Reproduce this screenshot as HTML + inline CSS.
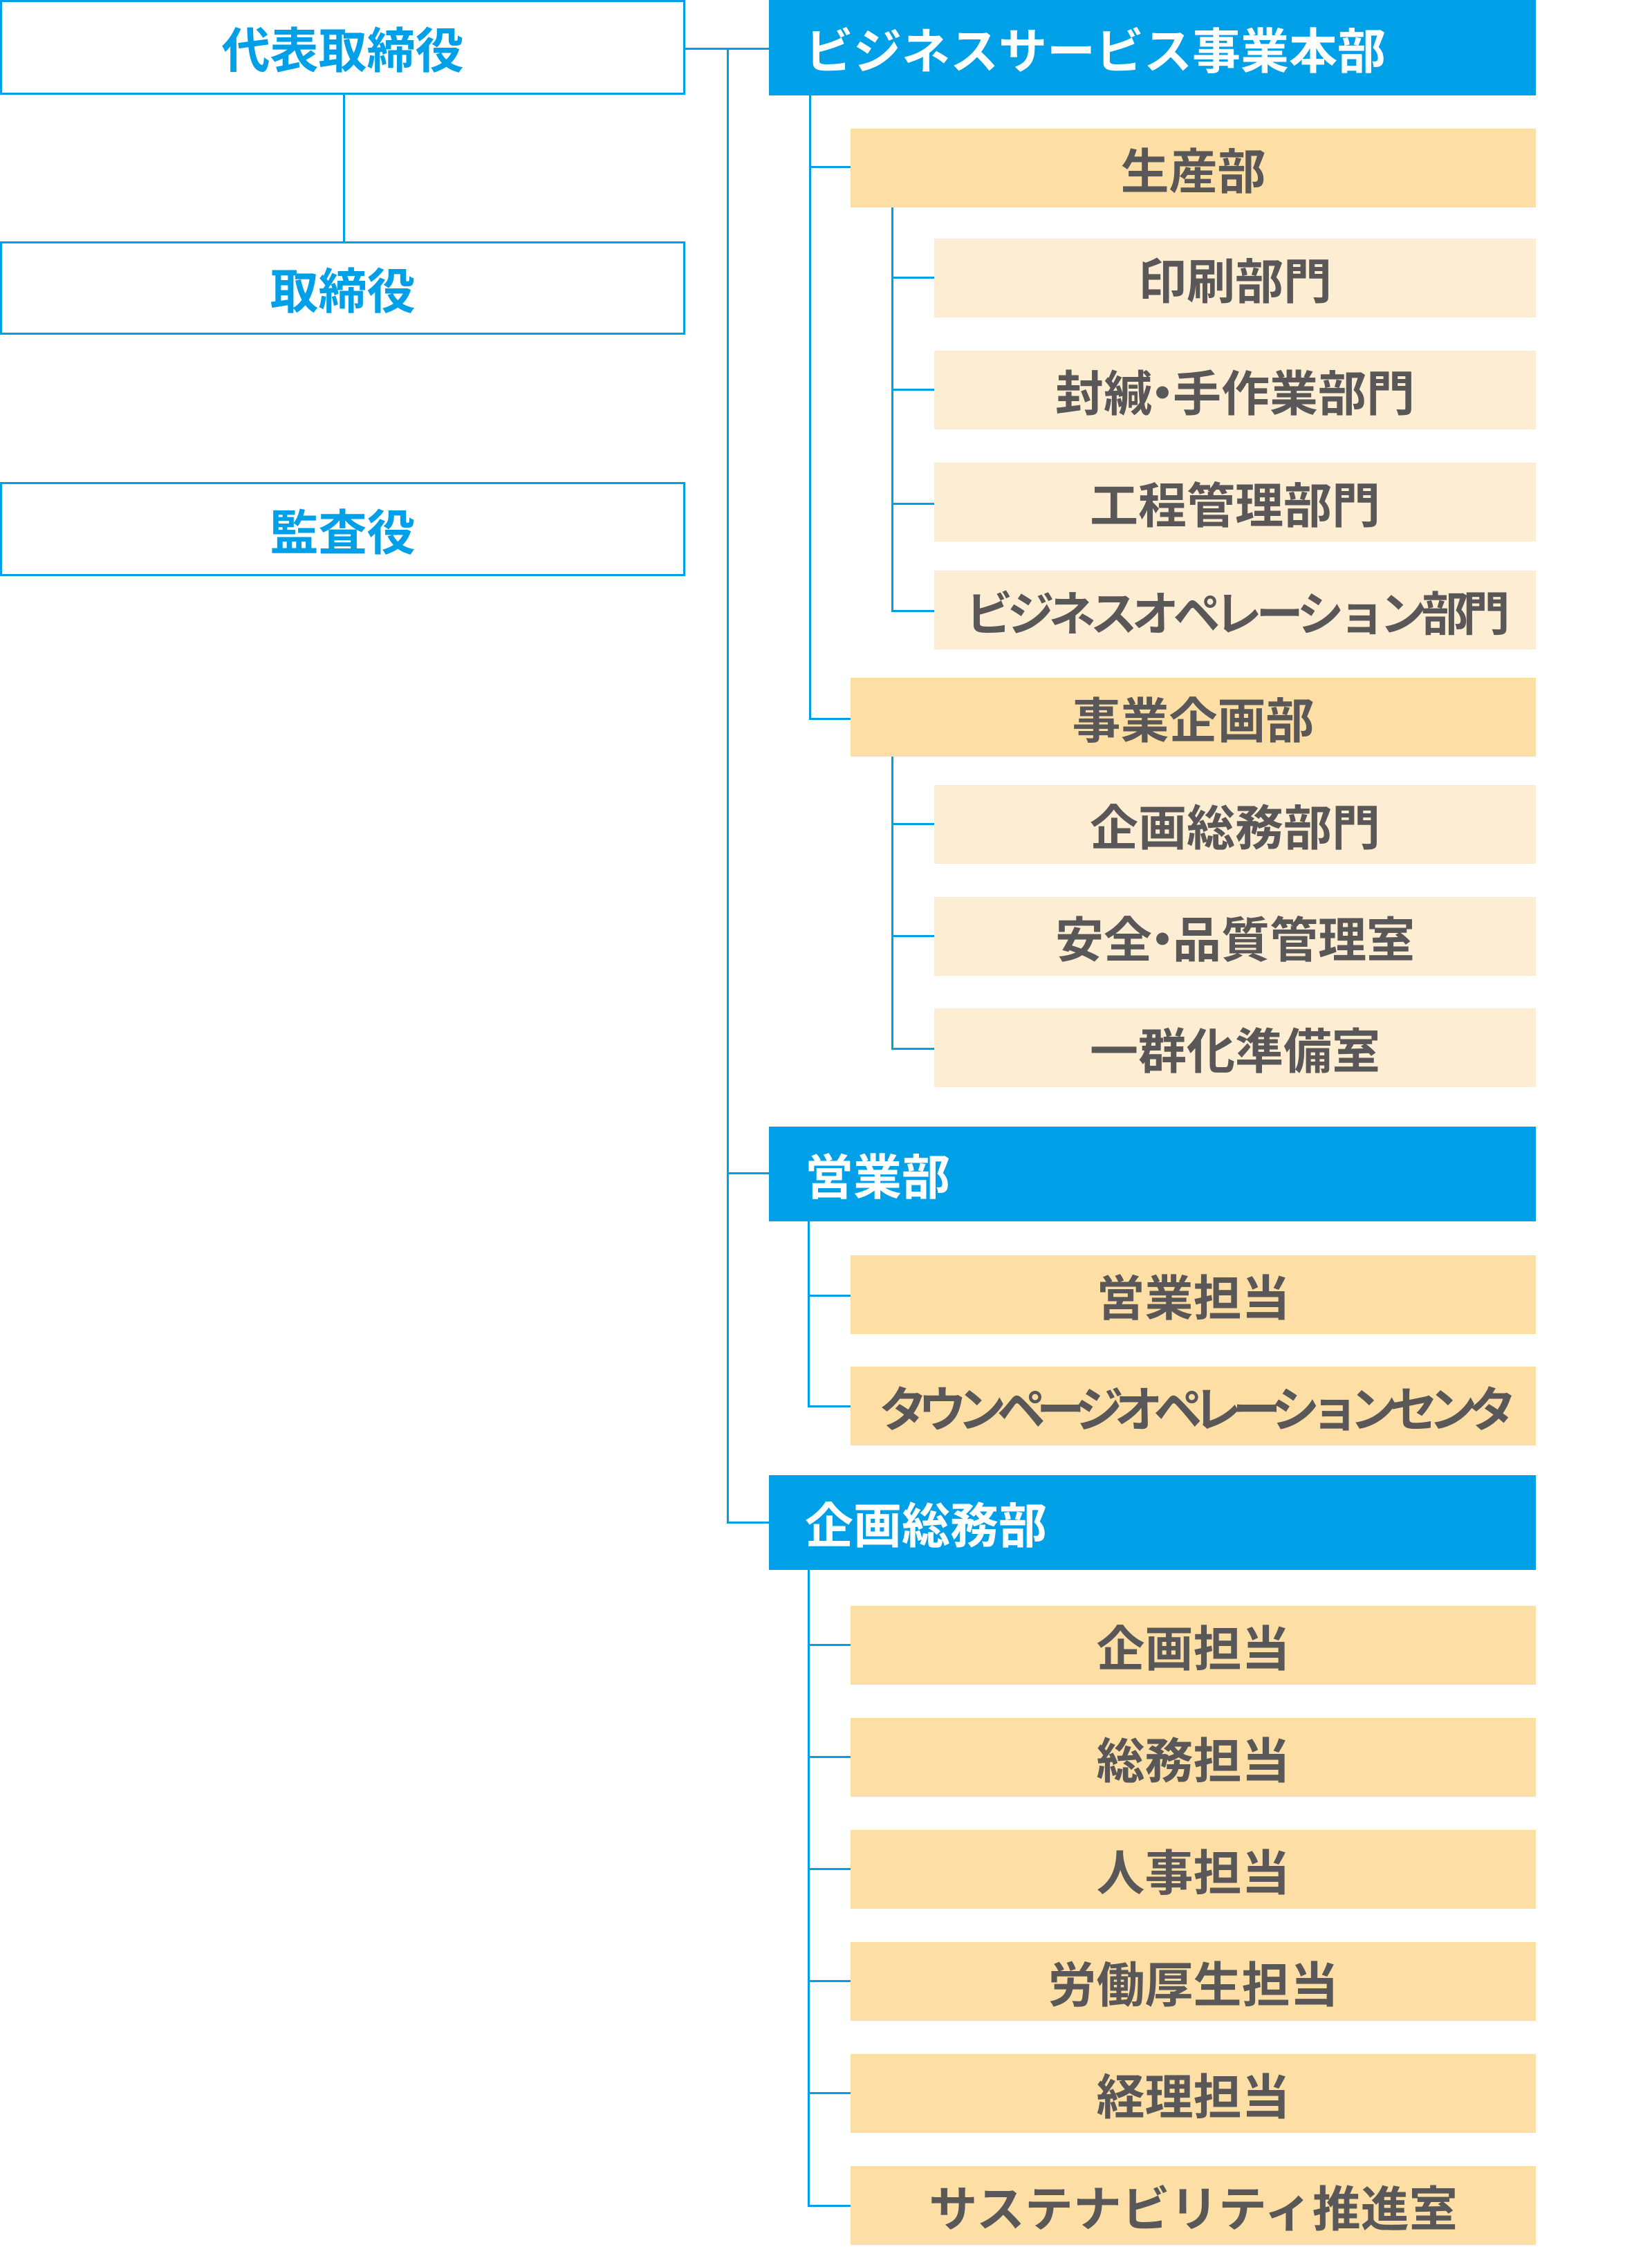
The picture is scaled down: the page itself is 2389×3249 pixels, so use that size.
<!DOCTYPE html>
<html><head><meta charset="utf-8"><style>
body{margin:0;width:2389px;height:3249px;background:#fff;position:relative;overflow:hidden;font-family:"Liberation Sans","Noto Sans CJK JP",sans-serif;font-weight:bold}
div{position:absolute;box-sizing:border-box;white-space:nowrap}
.lb{left:0;width:991px;border:3px solid #00a0e9;color:#00a0e9;font-size:70px;display:flex;align-items:center;justify-content:center}
.h{left:1112px;width:1109px;background:#00a0e9;color:#fff;font-size:70px;display:flex;align-items:center;padding-left:52px}
.o{background:#fddfa6;color:#595757;font-size:70px;display:flex;align-items:center;justify-content:center;width:991px;left:1230px;height:114px}
.l{background:#fdeed3;color:#595757;font-size:70px;display:flex;align-items:center;justify-content:center;left:1351px;width:870px;height:114px}
.v{width:3px;background:#00a0e9}
.hz{height:3px;background:#00a0e9}
.dot{display:inline-block;width:30px;text-align:center;overflow:visible}
.dot span{display:inline-block;margin-left:-20px;margin-right:-20px}
</style></head><body>
<div class="lb" style="top:0;height:137px">代表取締役</div>
<div class="lb" style="top:349px;height:135px">取締役</div>
<div class="lb" style="top:697px;height:136px">監査役</div>
<div class="v" style="left:496px;top:137px;height:212px"></div>

<div class="hz" style="left:991px;top:69px;width:122px"></div>
<div class="v" style="left:1051px;top:69px;height:2133px"></div>

<div class="h" style="top:0;height:138px">ビジネスサービス事業本部</div>
<div class="v" style="left:1170px;top:138px;height:902px"></div>
<div class="o" style="top:186px">生産部</div>
<div class="hz" style="left:1170px;top:240px;width:60px"></div>
<div class="v" style="left:1289px;top:300px;height:584px"></div>
<div class="l" style="top:345px">印刷部門</div>
<div class="hz" style="left:1289px;top:400px;width:62px"></div>
<div class="l" style="top:507px">封緘<span class="dot"><span>・</span></span>手作業部門</div>
<div class="hz" style="left:1289px;top:562px;width:62px"></div>
<div class="l" style="top:669px">工程管理部門</div>
<div class="hz" style="left:1289px;top:727px;width:62px"></div>
<div class="l" style="top:825px;letter-spacing:-8px;font-size:68px">ビジネスオペレーション部門</div>
<div class="hz" style="left:1289px;top:882px;width:62px"></div>
<div class="o" style="top:980px">事業企画部</div>
<div class="hz" style="left:1170px;top:1038px;width:60px"></div>
<div class="v" style="left:1289px;top:1094px;height:423px"></div>
<div class="l" style="top:1135px">企画総務部門</div>
<div class="hz" style="left:1289px;top:1190px;width:62px"></div>
<div class="l" style="top:1297px">安全<span class="dot"><span>・</span></span>品質管理室</div>
<div class="hz" style="left:1289px;top:1352px;width:62px"></div>
<div class="l" style="top:1458px">一群化準備室</div>
<div class="hz" style="left:1289px;top:1515px;width:62px"></div>

<div class="hz" style="left:1051px;top:1695px;width:62px"></div>
<div class="h" style="top:1629px;height:137px">営業部</div>
<div class="v" style="left:1168px;top:1766px;height:268px"></div>
<div class="o" style="top:1815px">営業担当</div>
<div class="hz" style="left:1168px;top:1872px;width:62px"></div>
<div class="o" style="top:1976px;letter-spacing:-13px">タウンページオペレーションセンタ</div>
<div class="hz" style="left:1168px;top:2032px;width:62px"></div>

<div class="hz" style="left:1051px;top:2200px;width:62px"></div>
<div class="h" style="top:2133px;height:137px">企画総務部</div>
<div class="v" style="left:1168px;top:2270px;height:921px"></div>
<div class="o" style="top:2322px">企画担当</div>
<div class="hz" style="left:1168px;top:2377px;width:62px"></div>
<div class="o" style="top:2484px">総務担当</div>
<div class="hz" style="left:1168px;top:2539px;width:62px"></div>
<div class="o" style="top:2646px">人事担当</div>
<div class="hz" style="left:1168px;top:2701px;width:62px"></div>
<div class="o" style="top:2808px">労働厚生担当</div>
<div class="hz" style="left:1168px;top:2863px;width:62px"></div>
<div class="o" style="top:2970px">経理担当</div>
<div class="hz" style="left:1168px;top:3025px;width:62px"></div>
<div class="o" style="top:3132px">サステナビリティ推進室</div>
<div class="hz" style="left:1168px;top:3188px;width:62px"></div>
</body></html>
